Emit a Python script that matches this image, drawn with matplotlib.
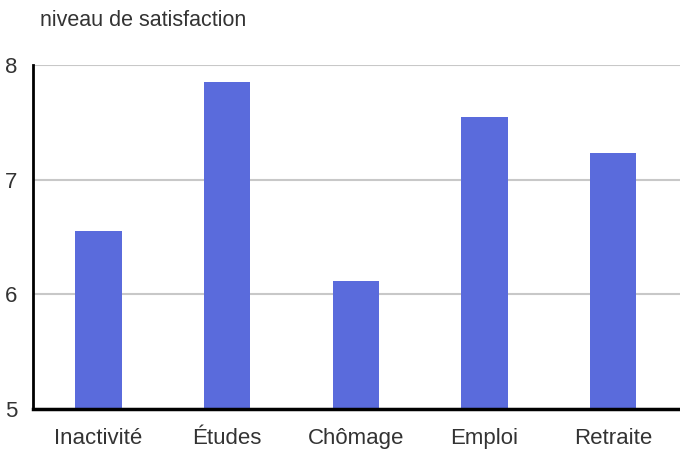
import matplotlib
matplotlib.use("Agg")
import matplotlib.pyplot as plt
from matplotlib import font_manager

categories = ["Inactivité", "Études", "Chômage", "Emploi", "Retraite"]
values = [6.55, 7.85, 6.12, 7.55, 7.23]
yticks = [5, 6, 7, 8]

names = {f.name for f in font_manager.fontManager.ttflist}
fam = "Liberation Sans Narrow" if "Liberation Sans Narrow" in names else "Liberation Sans"
plt.rcParams["font.family"] = [fam, "DejaVu Sans"]

fig = plt.figure(figsize=(6.8, 4.49), dpi=100)
ax = fig.add_axes([33/680, 40/449, 1 - 33/680, (409-65)/449])

x = list(range(len(categories)))
ax.bar(x, values, width=0.36, color="#5a6bdc", zorder=2)
ax.set_ylim(5, 8)
ax.set_xlim(-0.51, 4.52)
ax.set_yticks(yticks)
ax.set_yticklabels([str(t) for t in yticks], fontsize=16, color="#333333")
ax.set_xticks(x)
ax.set_xticklabels(categories, fontsize=16, color="#333333")
ax.tick_params(axis="x", length=0, pad=14)
ax.tick_params(axis="y", length=0, pad=11)
ax.yaxis.grid(True, color="#c8c8c8", linewidth=1.5, zorder=1)
ax.set_axisbelow(True)
for s in ["top", "right"]:
    ax.spines[s].set_visible(False)
ax.spines["left"].set_linewidth(2)
ax.spines["bottom"].set_linewidth(2.5)
ax.spines["left"].set_zorder(3)
ax.spines["bottom"].set_zorder(3)

fig.text(40/680, 1 - 20/449, "niveau de satisfaction", fontsize=15.5, color="#333333",
         ha="left", va="center")

fig.savefig("out.png", dpi=100)
